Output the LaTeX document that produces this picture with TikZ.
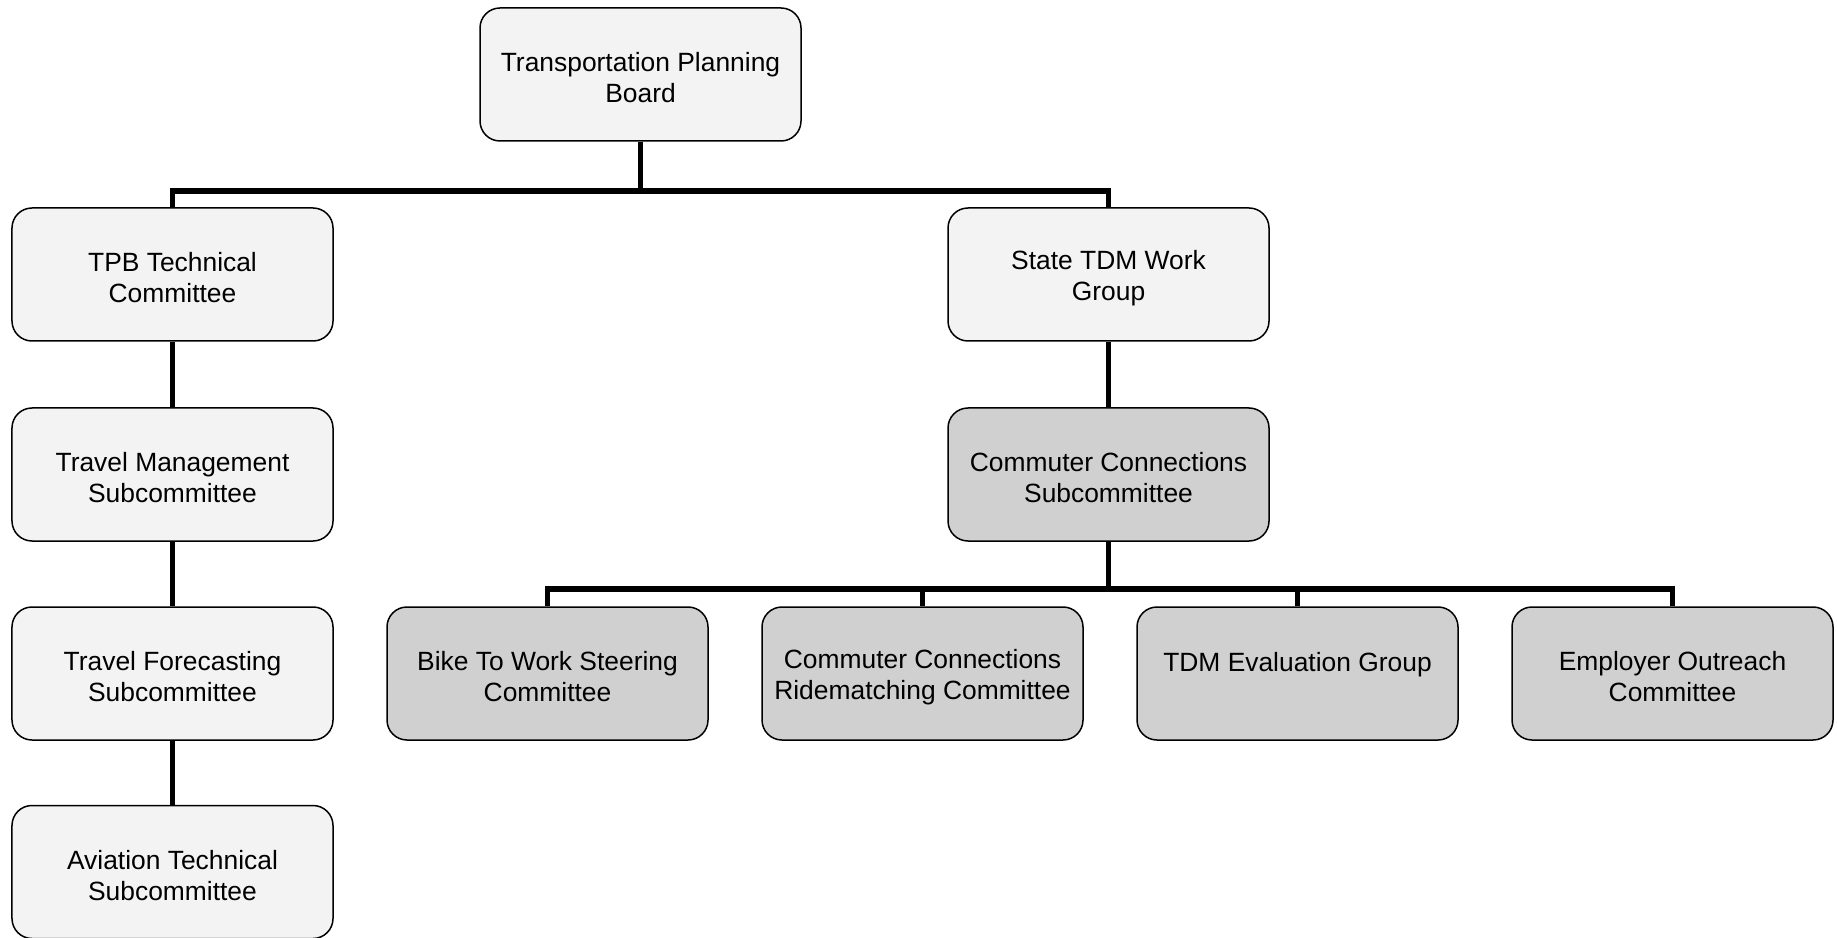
\documentclass[tikz,border=0pt]{standalone}
\usepackage{fontspec}
\setmainfont{Liberation Sans}
\begin{document}
\begin{tikzpicture}[x=0.4pt,y=-0.4pt,
  box/.style={draw=black, line width=0.6pt, rounded corners=8pt,
    minimum width=128.4pt, minimum height=53.2pt, inner sep=0pt,
    text height=22.8pt,
    align=center, font=\fontsize{10.56pt}{12.4pt}\selectfont},
  lightbox/.style={box, fill=lightfill},
  darkbox/.style={box, fill=darkfill},
  conn/.style={line width=2.1pt, draw=black}]
\definecolor{lightfill}{HTML}{F3F3F3}
\definecolor{darkfill}{HTML}{D0D0D0}
\useasboundingbox (0,0) rectangle (1837,938);
\fill[white] (0,0) rectangle (1837,938);
% nodes
\node[lightbox] (tpbboard) at (640.5,74.5) {Transportation Planning\\Board};
\node[lightbox] (tech) at (172.5,274.5) {TPB Technical\\Committee};
\node[lightbox] (mgmt) at (172.5,474.5) {Travel Management\\Subcommittee};
\node[lightbox] (fore) at (172.5,673.5) {Travel Forecasting\\Subcommittee};
\node[lightbox] (avia) at (172.5,872) {Aviation Technical\\Subcommittee};
\node[lightbox] (state) at (1108.5,274.5) {State TDM Work\\Group};
\node[darkbox] (ccsub) at (1108.5,474.5) {Commuter Connections\\Subcommittee};
\node[darkbox] (bike) at (547.5,673.5) {Bike To Work Steering\\Committee};
\node[darkbox] (ride) at (922.5,673.5) {Commuter Connections\\Ridematching Committee};
\node[darkbox] (eval) at (1297.5,673.5) {TDM Evaluation Group\\\mbox{}};
\node[darkbox] (outr) at (1672.5,673.5) {Employer Outreach\\Committee};
% bars
\coordinate (b1) at (640.5,191);
\coordinate (b2) at (1108.5,589);
% connectors
\draw[conn] (tpbboard.south) -- (b1);
\draw[conn] (tech.north) -- (tech.north |- b1) -- (state.north |- b1) -- (state.north);
\draw[conn] (tech) -- (mgmt);
\draw[conn] (mgmt) -- (fore);
\draw[conn] (fore) -- (avia);
\draw[conn] (state) -- (ccsub);
\draw[conn] (ccsub.south) -- (b2);
\draw[conn] (bike.north) -- (bike.north |- b2) -- (outr.north |- b2) -- (outr.north);
\draw[conn] (ride.north) -- (ride.north |- b2);
\draw[conn] (eval.north) -- (eval.north |- b2);
\end{tikzpicture}
\end{document}
